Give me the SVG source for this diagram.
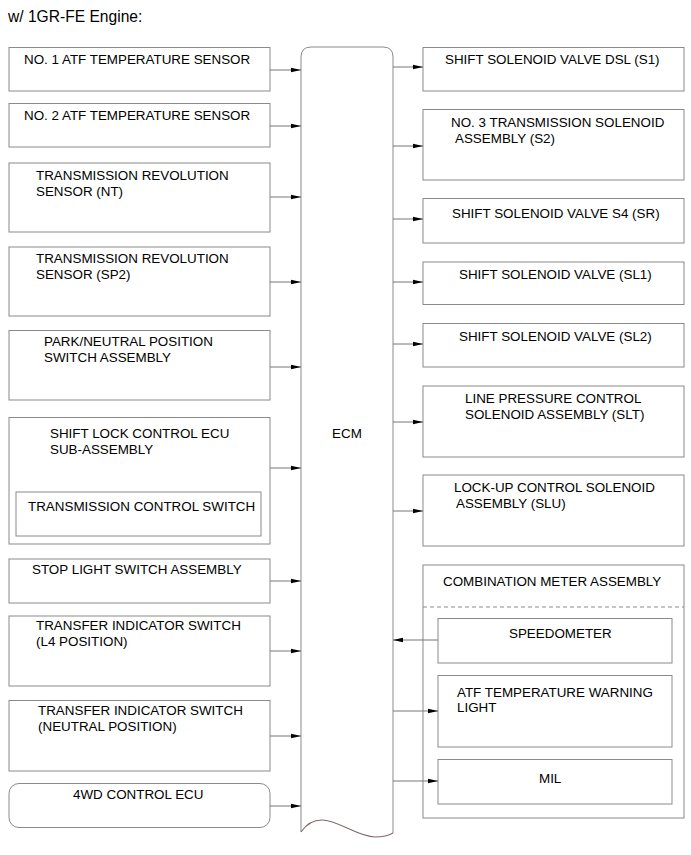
<svg xmlns="http://www.w3.org/2000/svg" width="691" height="855" viewBox="0 0 691 855">
<style>
.b{fill:#fff;stroke:#8a8a8a;stroke-width:1}
.t{font-family:"Liberation Sans",Arial,sans-serif;font-size:13.4px;fill:#000}
.c{stroke:#777;stroke-width:1;fill:none;marker-end:url(#ah)}
</style>
<defs>
<marker id="ah" viewBox="0 0 10 6" refX="10" refY="3" markerWidth="10" markerHeight="6" markerUnits="userSpaceOnUse" orient="auto">
<path d="M0,0.8 L10,3 L0,5.2 Z" fill="#000"/>
</marker>
</defs>
<rect width="691" height="855" fill="#fff"/>
<text class="t" x="8" y="22" style="font-size:15.6px">w/ 1GR-FE Engine:</text>

<g id="ecm">
<path d="M301,832 L301,57 Q301,47 311,47 L383,47 Q393,47 393,57 L393,833 C388,836 382,837 375,837 C358,837 338,820 322,820 C312,820 305,826 301,832 Z" fill="#fff" stroke="none"/>
<path d="M301,832 L301,57 Q301,47 311,47 L383,47 Q393,47 393,57 L393,833" fill="none" stroke="#8a8a8a"/>
<path d="M301,832 C305,826 312,820 322,820 C338,820 358,837 375,837 C382,837 388,836 393,833" fill="none" stroke="#806868" stroke-width="1.1"/>
<text class="t" x="347" y="438" text-anchor="middle">ECM</text>
</g>

<g id="n1"><rect class="b" x="9" y="47.5" width="261" height="43.5"/><text class="t" x="24" y="64">NO. 1 ATF TEMPERATURE SENSOR</text></g>
<g id="n2"><rect class="b" x="9" y="103.5" width="261" height="43.5"/><text class="t" x="24" y="120">NO. 2 ATF TEMPERATURE SENSOR</text></g>
<g id="nt"><rect class="b" x="9" y="163" width="261" height="69"/><text class="t" x="36" y="180">TRANSMISSION REVOLUTION</text><text class="t" x="36" y="196">SENSOR (NT)</text></g>
<g id="sp2"><rect class="b" x="9" y="247" width="261" height="69"/><text class="t" x="36" y="263">TRANSMISSION REVOLUTION</text><text class="t" x="36" y="279">SENSOR (SP2)</text></g>
<g id="pnp"><rect class="b" x="9" y="330.5" width="261" height="69.5"/><text class="t" x="44" y="346">PARK/NEUTRAL POSITION</text><text class="t" x="44" y="362">SWITCH ASSEMBLY</text></g>
<g id="shiftlock"><rect class="b" x="9" y="417.5" width="261" height="126.5"/><text class="t" x="50" y="438">SHIFT LOCK CONTROL ECU</text><text class="t" x="50" y="454">SUB-ASSEMBLY</text>
<g id="tcs"><rect class="b" x="16" y="492" width="245" height="44"/><text class="t" x="28" y="511">TRANSMISSION CONTROL SWITCH</text></g></g>
<g id="stop"><rect class="b" x="9" y="559" width="261" height="44"/><text class="t" x="32" y="574">STOP LIGHT SWITCH ASSEMBLY</text></g>
<g id="l4"><rect class="b" x="9" y="616" width="261" height="70"/><text class="t" x="36" y="630">TRANSFER INDICATOR SWITCH</text><text class="t" x="36" y="646">(L4 POSITION)</text></g>
<g id="neutral"><rect class="b" x="9" y="700.5" width="261" height="70.5"/><text class="t" x="38" y="715">TRANSFER INDICATOR SWITCH</text><text class="t" x="38" y="731">(NEUTRAL POSITION)</text></g>
<g id="wd4"><rect class="b" x="9" y="783.5" width="261" height="44" rx="10" ry="10"/><text class="t" x="73" y="799">4WD CONTROL ECU</text></g>

<g id="s1"><rect class="b" x="423" y="47.5" width="261" height="43.5"/><text class="t" x="445" y="64">SHIFT SOLENOID VALVE DSL (S1)</text></g>
<g id="s2"><rect class="b" x="423" y="109.5" width="261" height="70.5"/><text class="t" x="451" y="127">NO. 3 TRANSMISSION SOLENOID</text><text class="t" x="455" y="143">ASSEMBLY (S2)</text></g>
<g id="sr"><rect class="b" x="423" y="198.5" width="261" height="44.5"/><text class="t" x="452" y="218">SHIFT SOLENOID VALVE S4 (SR)</text></g>
<g id="sl1"><rect class="b" x="423" y="262" width="261" height="42.5"/><text class="t" x="459" y="279">SHIFT SOLENOID VALVE (SL1)</text></g>
<g id="sl2"><rect class="b" x="423" y="323.5" width="261" height="43.5"/><text class="t" x="459" y="341">SHIFT SOLENOID VALVE (SL2)</text></g>
<g id="slt"><rect class="b" x="423" y="386" width="261" height="71"/><text class="t" x="465" y="403">LINE PRESSURE CONTROL</text><text class="t" x="465" y="419">SOLENOID ASSEMBLY (SLT)</text></g>
<g id="slu"><rect class="b" x="423" y="475" width="261" height="71"/><text class="t" x="454" y="492">LOCK-UP CONTROL SOLENOID</text><text class="t" x="456" y="508">ASSEMBLY (SLU)</text></g>

<g id="meter"><rect class="b" x="423" y="565" width="261" height="253"/><text class="t" x="443" y="586">COMBINATION METER ASSEMBLY</text>
<line x1="423" y1="607" x2="684" y2="607" stroke="#8a8a8a" stroke-dasharray="4,3"/>
<g id="speedo"><rect class="b" x="438" y="618.5" width="234" height="44.5"/><text class="t" x="509" y="638">SPEEDOMETER</text></g>
<g id="atfwarn"><rect class="b" x="438" y="675.5" width="234" height="71.5"/><text class="t" x="457" y="697">ATF TEMPERATURE WARNING</text><text class="t" x="457" y="712">LIGHT</text></g>
<g id="mil"><rect class="b" x="438" y="759.5" width="234" height="44.5"/><text class="t" x="539" y="783">MIL</text></g>
</g>

<g id="connectors">
<line class="c" x1="270" y1="70" x2="301" y2="70"/>
<line class="c" x1="270" y1="126" x2="301" y2="126"/>
<line class="c" x1="270" y1="197" x2="301" y2="197"/>
<line class="c" x1="270" y1="282" x2="301" y2="282"/>
<line class="c" x1="270" y1="367" x2="301" y2="367"/>
<line class="c" x1="270" y1="468" x2="301" y2="468"/>
<line class="c" x1="270" y1="581" x2="301" y2="581"/>
<line class="c" x1="270" y1="651" x2="301" y2="651"/>
<line class="c" x1="270" y1="736" x2="301" y2="736"/>
<line class="c" x1="270" y1="806" x2="301" y2="806"/>
<line class="c" x1="393" y1="67" x2="423" y2="67"/>
<line class="c" x1="393" y1="146" x2="423" y2="146"/>
<line class="c" x1="393" y1="219" x2="423" y2="219"/>
<line class="c" x1="393" y1="282" x2="423" y2="282"/>
<line class="c" x1="393" y1="344" x2="423" y2="344"/>
<line class="c" x1="393" y1="422" x2="423" y2="422"/>
<line class="c" x1="393" y1="511" x2="423" y2="511"/>
<line class="c" x1="438" y1="640" x2="393" y2="640"/>
<line class="c" x1="393" y1="711" x2="438" y2="711"/>
<line class="c" x1="393" y1="781" x2="438" y2="781"/>
</g>
</svg>
